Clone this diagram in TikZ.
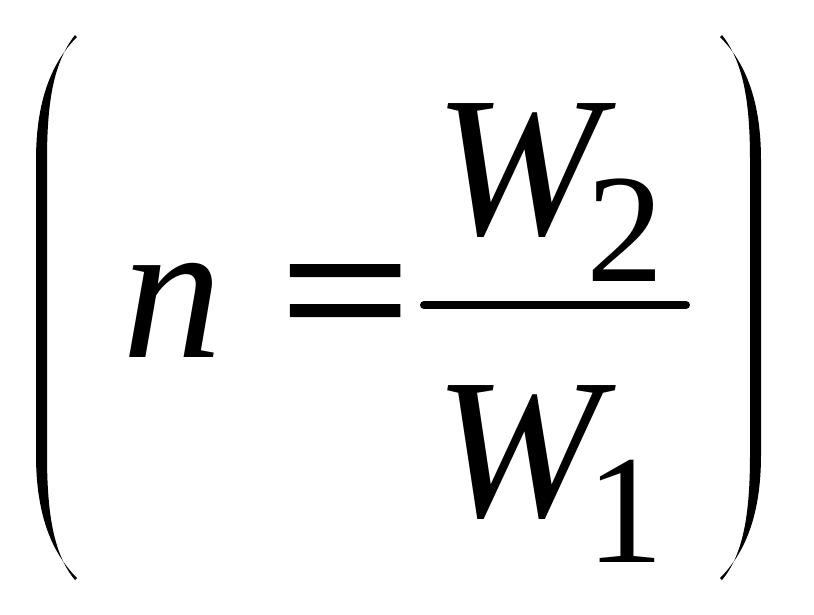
\documentclass[tikz,border=0pt]{standalone}
\usepackage{graphicx}
\usepackage{fontspec}
\setmainfont{Liberation Serif}
\usetikzlibrary{positioning}

\tikzset{
  big/.style={inner sep=0pt, anchor=base west, font=\fontsize{200}{200}\selectfont},
  small/.style={inner sep=0pt, anchor=base west, font=\fontsize{155}{155}\selectfont},
  paren/.style={fill=black, draw=none}
}

\begin{document}
\begin{tikzpicture}[x=1pt,y=-1pt]
  \useasboundingbox (0,0) rectangle (814,614);
  % parentheses
  \foreach \sx/\dx in {1/0,-1/797}{
    \begin{scope}[xshift=\dx pt, xscale=\sx]
      \fill[paren] (77,37) .. controls (52,62) and (36,100) .. (36,160)
        -- (36,455) .. controls (36,515) and (52,553) .. (77,578)
        -- (75,580) .. controls (54,555) and (47,515) .. (47,455)
        -- (47,160) .. controls (47,100) and (54,62) .. (75,35) -- cycle;
    \end{scope}
  }
  % left side
  \node[big, font=\fontsize{200}{200}\selectfont\itshape] (n) at (122,357) {n};
  \node[big, anchor=base, font=\fontsize{200}{200}\selectfont\addfontfeature{FakeBold=1.5}] (eq) at (345,357) {\scalebox{1.15}[1]{=}};
  % fraction
  \coordinate (barL) at (424,305);
  \coordinate (barR) at (686,305);
  \draw[line width=8pt, line cap=round] (barL) -- (barR);
  \node[big, font=\fontsize{200}{200}\selectfont\itshape] (W2) at (434,234) {W};
  \node[small] (s2) at (586,281) {2};
  \node[big, font=\fontsize{200}{200}\selectfont\itshape] (W1) at (434,516) {W};
  \node[small] (s1) at (586,562) {1};
\end{tikzpicture}
\end{document}
